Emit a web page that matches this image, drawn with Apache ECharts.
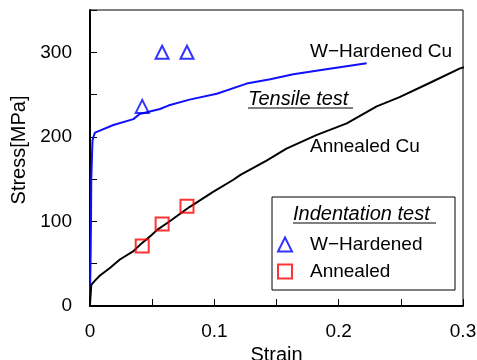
<!DOCTYPE html>
<html>
<head>
<meta charset="utf-8">
<script src="https://cdn.jsdelivr.net/npm/echarts@6/dist/echarts.min.js"></script>
<style>
  html, body { margin: 0; padding: 0; background: #fff; }
  #chart { width: 477px; height: 360px; }
</style>
</head>
<body>
<div id="chart"></div>
<script>
// tensile test curves [strain, stress MPa]
const hardenedCurve = [
  [0, 12], [0.0005, 60], [0.0008, 100], [0.001, 148], [0.002, 196], [0.003, 201],
  [0.004, 205], [0.0188, 214], [0.0349, 221], [0.040, 227], [0.0563, 233], [0.063, 237],
  [0.080, 244], [0.102, 251], [0.126, 263], [0.145, 268], [0.1635, 274], [0.190, 280],
  [0.2225, 287]
];
const annealedCurve = [
  [0, 2], [0.001, 25], [0.004, 30], [0.008, 36], [0.016, 45], [0.024, 55], [0.035, 65],
  [0.040, 72], [0.0496, 84], [0.054, 90], [0.063, 99], [0.080, 117], [0.099, 135],
  [0.115, 149], [0.121, 155], [0.142, 172], [0.158, 186], [0.182, 202], [0.2065, 216],
  [0.2306, 236], [0.249, 247], [0.2735, 264], [0.2976, 281], [0.307, 285]
];
// indentation test points
const hardenedIndent = [[0.042, 236], [0.058, 300], [0.078, 300]];
const annealedIndent = [[0.042, 71], [0.058, 97], [0.078, 118]];

const legendNames = ["W\u2212Hardened", "Annealed"];
const FONT = "'Liberation Sans', Arial, sans-serif";

const chart = echarts.init(document.getElementById("chart"));

chart.setOption({
  animation: false,
  grid: {
    left: 90, right: 14, top: 10, bottom: 54,
    outerBoundsMode: "none",
    show: true, borderColor: "#000", borderWidth: 1
  },
  xAxis: {
    type: "value", min: 0, max: 0.3, interval: 0.05,
    name: "Strain", nameLocation: "middle", nameGap: 38,
    nameTextStyle: { color: "#000", fontSize: 20, fontFamily: FONT },
    axisLine: { lineStyle: { color: "#000", width: 2 } },
    axisTick: { inside: true, length: 7, lineStyle: { color: "#000" } },
    axisLabel: {
      color: "#000", fontSize: 19, fontFamily: FONT, margin: 16,
      formatter: (v) => (Math.abs(v * 10 - Math.round(v * 10)) < 1e-6 ? String(Math.round(v * 10) / 10) : "")
    },
    splitLine: { show: false }
  },
  yAxis: {
    type: "value", min: 0, max: 350, interval: 50,
    name: "Stress[MPa]", nameLocation: "middle", nameGap: 60,
    nameTextStyle: { color: "#000", fontSize: 20, fontFamily: FONT, padding: [0, 0, 0, 16] },
    axisLine: { lineStyle: { color: "#000", width: 2 } },
    axisTick: { inside: true, length: 7, lineStyle: { color: "#000" } },
    axisLabel: {
      color: "#000", fontSize: 19, fontFamily: FONT, margin: 18,
      formatter: (v) => (v % 100 === 0 ? String(v) : "")
    },
    splitLine: { show: false }
  },
  legend: {
    data: legendNames,
    orient: "vertical",
    left: 272, top: 230,
    itemWidth: 14, itemHeight: 14, itemGap: 8,
    z: 10,
    textStyle: { color: "#000", fontSize: 19, fontFamily: FONT, padding: [0, 0, 0, 13] }
  },
  graphic: [
    { type: "text", left: 310, top: 42, style: { text: "W\u2212Hardened Cu", font: "19px " + FONT, fill: "#000" } },
    { type: "text", left: 248, top: 89, style: { text: "Tensile test", font: "italic 20px " + FONT, fill: "#000" } },
    { type: "line", shape: { x1: 248, y1: 108, x2: 353, y2: 108 }, style: { stroke: "#000", lineWidth: 1 } },
    { type: "text", left: 310, top: 137, style: { text: "Annealed Cu", font: "19px " + FONT, fill: "#000" } },
    { type: "rect", z: 5, shape: { x: 272, y: 197, width: 183, height: 93 }, style: { fill: "#fff", stroke: "#000", lineWidth: 1 } },
    { type: "text", z: 6, left: 293, top: 204, style: { text: "Indentation test", font: "italic 20px " + FONT, fill: "#000" } },
    { type: "line", z: 6, shape: { x1: 293, y1: 223, x2: 436, y2: 223 }, style: { stroke: "#000", lineWidth: 1 } }
  ],
  series: [
    {
      name: "W-Hardened Cu", type: "line", data: hardenedCurve, showSymbol: false,
      lineStyle: { color: "#1010ff", width: 2 }, z: 2
    },
    {
      name: "Annealed Cu", type: "line", data: annealedCurve, showSymbol: false, clip: false,
      lineStyle: { color: "#000", width: 2 }, z: 2
    },
    {
      name: legendNames[0], type: "scatter", data: hardenedIndent,
      symbol: "triangle", symbolSize: 13,
      itemStyle: { color: "transparent", borderColor: "#0000ff", borderWidth: 2 }, z: 3
    },
    {
      name: legendNames[1], type: "scatter", data: annealedIndent,
      symbol: "rect", symbolSize: 13,
      itemStyle: { color: "transparent", borderColor: "#ff0000", borderWidth: 2 }, z: 3
    }
  ]
});
</script>
</body>
</html>
